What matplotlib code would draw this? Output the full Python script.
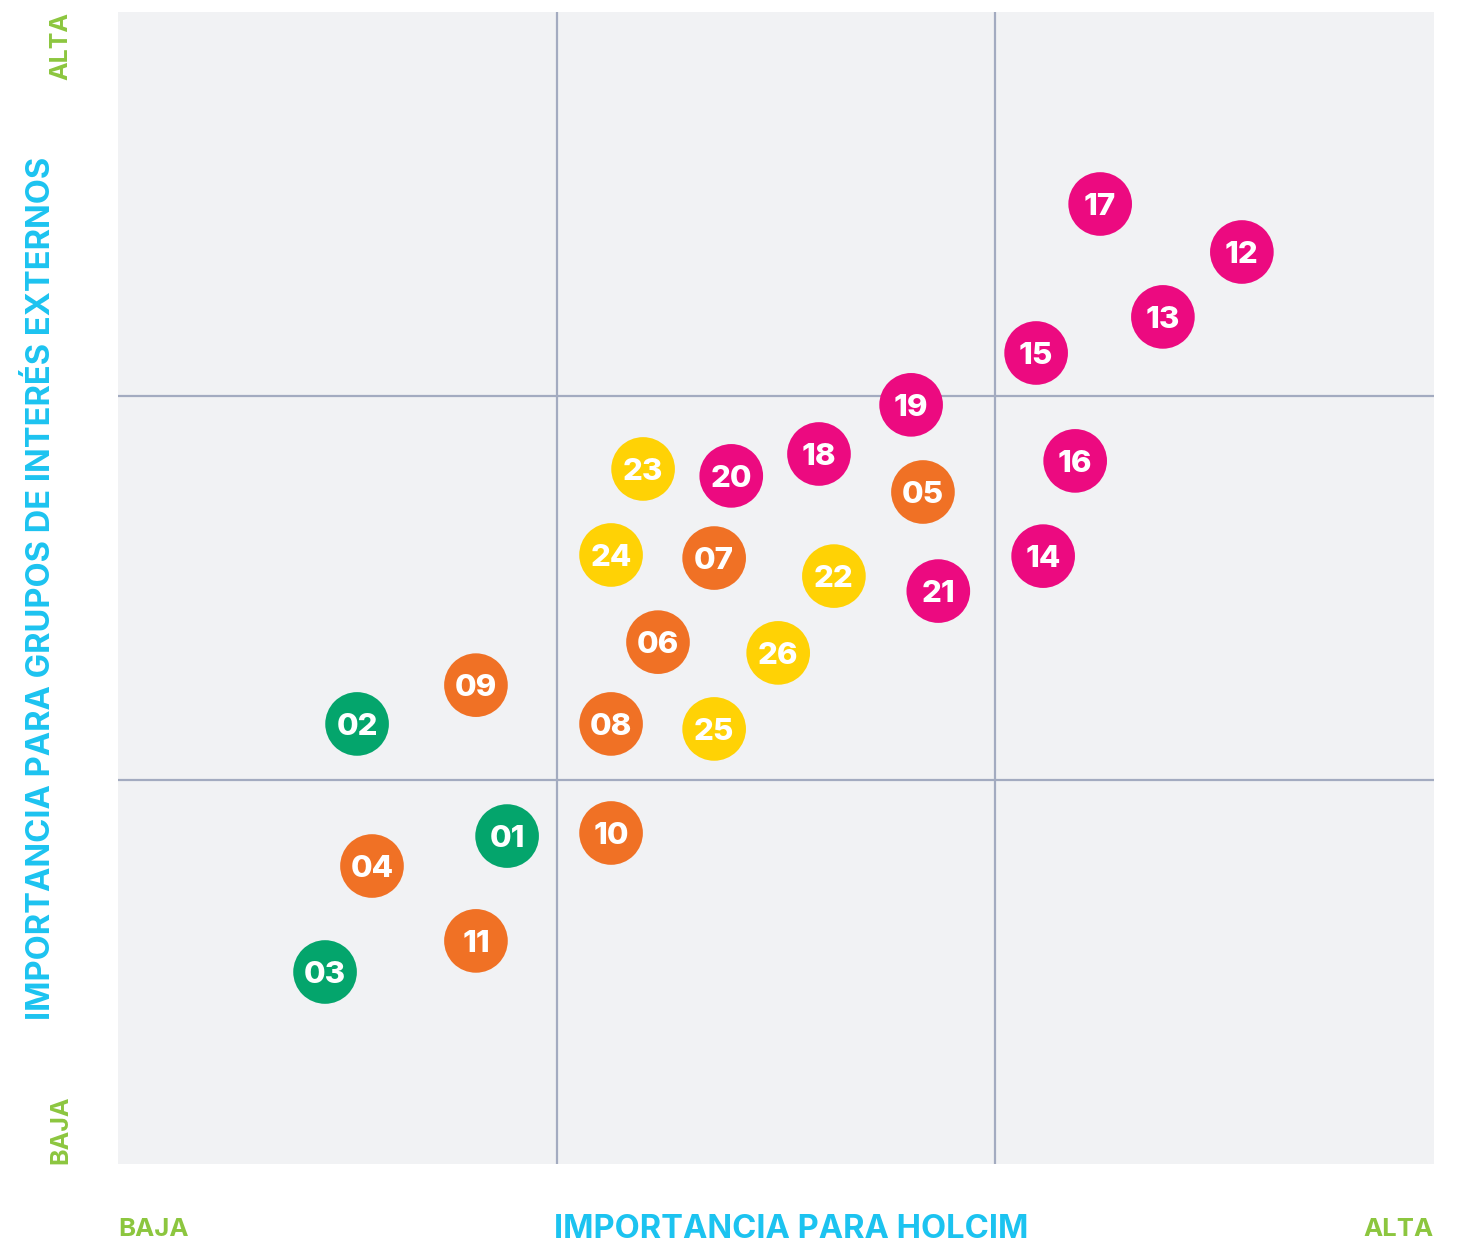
import matplotlib
matplotlib.use('Agg')
from matplotlib import pyplot as plt

plt.rcParams['font.family'] = ['Inter', 'DejaVu Sans']

# topic ids, positions on a 0-3 scale, and group
labels = ["01", "02", "03", "04", "05", "06", "07", "08", "09", "10", "11", "12", "13",
          "14", "15", "16", "17", "18", "19", "20", "21", "22", "23", "24", "25", "26"]
holcim = [0.887, 0.545, 0.472, 0.579, 1.835, 1.231, 1.359, 1.124, 0.816, 1.124, 0.816, 2.562, 2.382,
          2.109, 2.093, 2.182, 2.239, 1.598, 1.808, 1.398, 1.870, 1.632, 1.197, 1.124, 1.359, 1.505]
externos = [0.854, 1.146, 0.500, 0.776, 1.750, 1.359, 1.578, 1.146, 1.247, 0.862, 0.581, 2.375, 2.206,
            1.583, 2.112, 1.831, 2.500, 1.849, 1.977, 1.792, 1.492, 1.531, 1.810, 1.586, 1.133, 1.331]
group = ["g", "g", "g", "o", "o", "o", "o", "o", "o", "o", "o", "p", "p",
         "p", "p", "p", "p", "p", "p", "p", "p", "y", "y", "y", "y", "y"]

colors = {"p": "#EC0A80", "o": "#F07125", "y": "#FFD205", "g": "#04A56C"}
lbl_green = "#8CC63F"
lbl_blue = "#1CC3F0"

fig = plt.figure(figsize=(14.58, 12.46), dpi=100)
ax = fig.add_axes([118 / 1458, 82 / 1246, 1316 / 1458, 1152 / 1246])
ax.set_facecolor("#F1F2F4")
ax.set_xlim(0, 3)
ax.set_ylim(0, 3)
for v in (1, 2):
    ax.axvline(v, color="#A3ABC0", lw=1.6, zorder=1)
    ax.axhline(v, color="#A3ABC0", lw=1.6, zorder=1)
for s in ax.spines.values():
    s.set_visible(False)
ax.set_xticks([])
ax.set_yticks([])

ax.scatter(holcim, externos, s=2100, c=[colors[g] for g in group], zorder=3, linewidths=0)
for x, y, t in zip(holcim, externos, labels):
    ax.text(x, y, t, ha="center", va="center_baseline", color="white", fontsize=22.5,
            fontweight="heavy", zorder=4)

fig.text(791 / 1458, 1 - 1229 / 1246, "IMPORTANCIA PARA HOLCIM", ha="center", va="center",
         color=lbl_blue, fontsize=23.5, fontweight="bold")
fig.text(118 / 1458, 1 - 1229 / 1246, "BAJA", ha="left", va="center",
         color=lbl_green, fontsize=18.5, fontweight="bold")
fig.text(1434 / 1458, 1 - 1229 / 1246, "ALTA", ha="right", va="center",
         color=lbl_green, fontsize=18.5, fontweight="bold")
fig.text(42 / 1458, 1 - 588 / 1246, "IMPORTANCIA PARA GRUPOS DE INTERÉS EXTERNOS", rotation=90,
         ha="center", va="center", color=lbl_blue, fontsize=23.5, fontweight="bold")
fig.text(61 / 1458, 1 - 12 / 1246, "ALTA", rotation=90, ha="center", va="top",
         color=lbl_green, fontsize=18, fontweight="bold")
fig.text(61 / 1458, 1 - 1164 / 1246, "BAJA", rotation=90, ha="center", va="bottom",
         color=lbl_green, fontsize=18, fontweight="bold")

fig.savefig("out.png", dpi=100, facecolor="white")
